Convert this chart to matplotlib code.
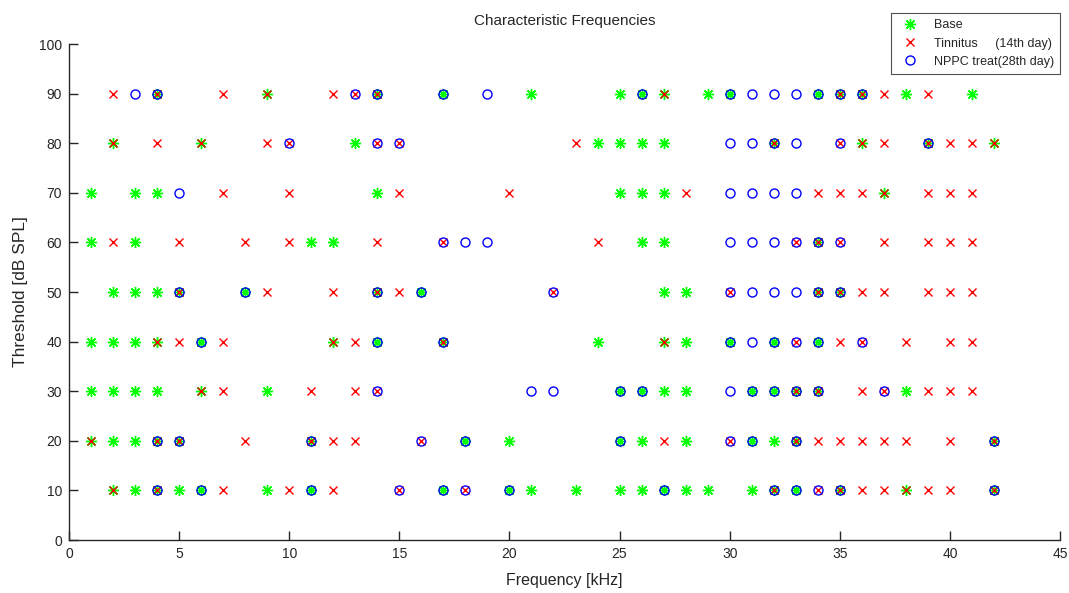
import matplotlib
matplotlib.use("Agg")
import matplotlib.pyplot as plt

# Threshold rows (dB SPL)
thresholds = [90, 80, 70, 60, 50, 40, 30, 20, 10]

# Frequencies (kHz) per threshold row, aligned with `thresholds`
base_freqs = [
    [4, 9, 14, 17, 21, 25, 26, 27, 29, 30, 34, 35, 36, 38, 41],
    [2, 6, 13, 24, 25, 26, 27, 32, 36, 39, 42],
    [1, 3, 4, 14, 25, 26, 27, 37],
    [1, 3, 11, 12, 26, 27, 34],
    [2, 3, 4, 5, 8, 14, 16, 27, 28, 34, 35],
    [1, 2, 3, 4, 6, 12, 14, 17, 24, 27, 28, 30, 32, 34],
    [1, 2, 3, 4, 6, 9, 25, 26, 27, 28, 31, 32, 33, 34, 38],
    [1, 2, 3, 4, 5, 11, 18, 20, 25, 26, 28, 31, 32, 33, 42],
    [2, 3, 4, 5, 6, 9, 11, 17, 20, 21, 23, 25, 26, 27, 28, 29, 31, 32, 33, 35, 38, 42],
]
tinnitus_freqs = [
    [2, 4, 7, 9, 12, 13, 14, 27, 35, 36, 37, 39],
    [2, 4, 6, 9, 10, 14, 15, 23, 32, 35, 36, 37, 39, 40, 41, 42],
    [7, 10, 15, 20, 28, 34, 35, 36, 37, 39, 40, 41],
    [2, 5, 8, 10, 14, 17, 24, 33, 34, 35, 37, 39, 40, 41],
    [5, 9, 12, 14, 15, 22, 30, 34, 35, 36, 37, 39, 40, 41],
    [4, 5, 7, 12, 13, 17, 27, 33, 35, 36, 38, 40, 41],
    [6, 7, 11, 13, 14, 33, 34, 36, 37, 39, 40, 41],
    [1, 4, 5, 8, 11, 12, 13, 16, 27, 30, 33, 34, 35, 36, 37, 38, 40, 42],
    [2, 4, 7, 10, 12, 15, 18, 32, 34, 35, 36, 37, 38, 39, 40, 42],
]
nppc_freqs = [
    [3, 4, 13, 14, 17, 19, 26, 30, 31, 32, 33, 34, 35, 36],
    [10, 14, 15, 30, 31, 32, 33, 35, 39],
    [5, 30, 31, 32, 33],
    [17, 18, 19, 30, 31, 32, 33, 34, 35],
    [5, 8, 14, 16, 22, 30, 31, 32, 33, 34, 35],
    [6, 14, 17, 30, 31, 32, 33, 34, 36],
    [14, 21, 22, 25, 26, 30, 31, 32, 33, 34, 37],
    [4, 5, 11, 16, 18, 25, 30, 31, 33, 42],
    [4, 6, 11, 15, 17, 18, 20, 27, 32, 33, 34, 35, 42],
]

series_labels = ["Base", "Tinnitus     (14th day)", "NPPC treat(28th day)"]
title = "Characteristic Frequencies"
xlabel = "Frequency [kHz]"
ylabel = "Threshold [dB SPL]"


def flatten(rows):
    xs, ys = [], []
    for thr, freqs in zip(thresholds, rows):
        for f in freqs:
            xs.append(f)
            ys.append(thr)
    return xs, ys


plt.rcParams['font.family'] = ['Liberation Sans', 'DejaVu Sans']
axcol = (0.15, 0.15, 0.15)

fig = plt.figure(figsize=(10.69, 5.93), dpi=100)
ax = fig.add_axes([69 / 1069, 1 - 540 / 593, (1060 - 69) / 1069, (540 - 44) / 593])

bx, by = flatten(base_freqs)
tx, ty = flatten(tinnitus_freqs)
nx, ny = flatten(nppc_freqs)

ax.plot(bx, by, linestyle='none', marker=(8, 2, 0), color=(0, 1, 0), markersize=8,
        markeredgewidth=1.0, label=series_labels[0])
ax.plot(tx, ty, linestyle='none', marker='x', color=(1, 0, 0), markersize=6,
        markeredgewidth=1.0, label=series_labels[1])
ax.plot(nx, ny, linestyle='none', marker='o', color=(0, 0, 1), markersize=6.5,
        markerfacecolor='none', markeredgewidth=1.0, label=series_labels[2])

ax.set_xlim(0, 45)
ax.set_ylim(0, 100)
ax.set_xticks(range(0, 46, 5))
ax.set_yticks(range(0, 101, 10))
ax.tick_params(direction='in', length=6.5, width=1, colors=axcol, labelsize=10,
               labelcolor=axcol, pad=5)
for side in ['top', 'right']:
    ax.spines[side].set_visible(False)
for side in ['left', 'bottom']:
    ax.spines[side].set_color(axcol)
    ax.spines[side].set_linewidth(1)

ax.set_title(title, fontsize=11, color=axcol, pad=14)
ax.set_xlabel(xlabel, fontsize=11.5, color=axcol, labelpad=9)
ax.set_ylabel(ylabel, fontsize=12.5, color=axcol, labelpad=8)

leg = fig.legend(loc='upper right', bbox_to_anchor=(1060 / 1069, 1 - 13 / 593),
                 fontsize=9, numpoints=1, handlelength=2.0, handletextpad=0.9,
                 borderpad=0.5, labelspacing=0.5, frameon=True, fancybox=False,
                 borderaxespad=0)
leg.get_frame().set_edgecolor(axcol)
leg.get_frame().set_linewidth(0.8)
for t in leg.get_texts():
    t.set_color(axcol)

fig.savefig("out.png", dpi=100)
